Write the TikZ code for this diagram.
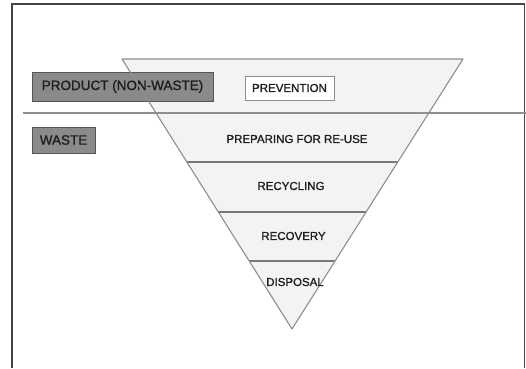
\documentclass[tikz,border=0pt]{standalone}
\usepackage{fontspec}
\setmainfont{Liberation Sans}
\newfontfamily\pyrfont[FakeBold=1.2]{Liberation Sans}
\usetikzlibrary{calc}
\definecolor{pyrfill}{HTML}{F2F3F3}
\definecolor{pyrline}{HTML}{8E8E8E}
\definecolor{boxfill}{HTML}{8A8A8A}
\definecolor{boxline}{HTML}{555555}
\definecolor{labeltext}{HTML}{1E1E1E}
\definecolor{framecol}{HTML}{444444}
\def\labelsize{\pyrfont\fontsize{11.5}{13}\selectfont}

\begin{document}
\begin{tikzpicture}[x=1pt,y=-1pt]
    \tikzstyle{side box}=[draw=boxline, fill=boxfill, line width=1pt, inner sep=0pt, text=labeltext, font=\pyrfont\fontsize{13.5}{15}\selectfont]
    \tikzstyle{layer label}=[text=labeltext, font=\labelsize, inner sep=0pt]
    \tikzstyle{layer line}=[draw=pyrline!85!black, line width=1.2pt]

    \useasboundingbox (0,0) rectangle (526,368);

    % Draw the frame, open at the bottom
    \coordinate (F-1) at (12,368);
    \coordinate (F-2) at (12,4);
    \coordinate (F-3) at (524.5,4);
    \coordinate (F-4) at (524.5,368);
    \draw[framecol, line width=1.3pt] (F-1) -- (F-2) -- (F-3) -- (F-4);

    % Corners of the pyramid
    \coordinate (TL) at (122,59);
    \coordinate (TR) at (463,59);
    \coordinate (A) at (292,329);
    \fill[pyrfill] (TL) -- (TR) -- (A) -- cycle;

    % Draw the boxes at the side
    \node[side box, minimum width=181pt, minimum height=29pt] (product) at (122.5,86.5) {PRODUCT (NON-WASTE)};
    \node[side box, minimum width=63pt, minimum height=26pt] (waste) at (63.5,140) {WASTE};
    \node[draw=pyrline, fill=white, line width=1pt, inner sep=0pt, text=labeltext, font=\labelsize, minimum width=89pt, minimum height=24pt] (prevention) at (289.5,88) {PREVENTION};

    % Borders between the layers
    \foreach \name / \t in {1/0.3815, 2/0.5667, 3/0.748} {
        \coordinate (L-\name) at ($(TL)!\t!(A)$);
        \coordinate (R-\name) at ($(TR)!\t!(A)$);
        \path[layer line] (L-\name) -- (R-\name);
    }
    \draw[pyrline, line width=1.1pt, line join=round] (TL) -- (TR) -- (A) -- cycle;

    % Line between product and waste
    \coordinate (D-start) at (23,113);
    \coordinate (D-end) at (526,113);
    \draw[pyrline, line width=2pt] (D-start) -- (D-end);

    % Annotate the layers
    \node[layer label] (reuse) at (297,139) {PREPARING FOR RE-USE};
    \node[layer label] (recycling) at (291,186) {RECYCLING};
    \node[layer label] (recovery) at (293.5,236) {RECOVERY};
    \node[layer label] (disposal) at (295,282) {DISPOSAL};
\end{tikzpicture}
\end{document}
